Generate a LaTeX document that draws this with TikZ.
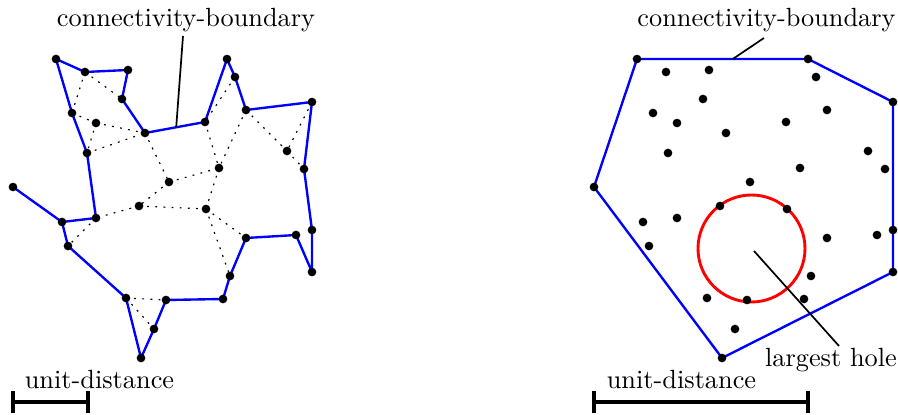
\documentclass[tikz,border=0pt]{standalone}
\usetikzlibrary{calc}
\begin{document}
\begin{tikzpicture}[x=0.38pt,y=-0.38pt,
  dot/.style={circle,fill=black,inner sep=0pt,minimum size=3.3pt},
  hull/.style={blue,line width=0.9pt,line join=round},
  deltri/.style={black,line width=0.45pt,dash pattern=on 0.7pt off 2.4pt},
  pointer/.style={black,line width=0.65pt},
  scalebar/.style={black,line width=1.2pt},
  lbl/.style={anchor=base,inner sep=0pt,font=\normalsize}]
\useasboundingbox (0,0) rectangle (898,415);
% point set, left copy (L) and right copy (R, shifted by 581px)
\foreach \i/\x/\y in {1/56/59,2/85/72,3/128/70,4/122/99,5/145/133,6/205/122,
  7/227/59,8/235/77,9/246/110,10/312/102,11/287/151,12/304/169,13/312/230,
  14/312/272,15/296/235,16/246/238,17/230/276,18/223/299,19/166/300,
  20/154/329,21/141/358,22/126/298,23/68/246,24/62/222,25/13/187,26/96/218,
  27/87/153,28/72/113,29/96/123,30/169/182,31/219/168,32/139/206,33/206/209}{
  \coordinate (L\i) at (\x,\y);
  \coordinate (R\i) at ({\x+581},\y);
}
% left: dotted triangulation edges
\foreach \a/\b in {2/28,2/4,28/29,29/5,29/27,27/5,5/30,8/6,6/31,9/31,9/11,
  10/11,11/12,30/31,30/32,31/33,32/33,32/26,26/23,33/16,33/17,22/19,22/20}{
  \draw[deltri] (L\a) -- (L\b);
}
% left: connectivity boundary
\draw[hull] (L25) -- (L24) -- (L26) -- (L27) -- (L28) -- (L1) -- (L2) -- (L3)
  -- (L4) -- (L5) -- (L6) -- (L7) -- (L8) -- (L9) -- (L10) -- (L12) -- (L13)
  -- (L14) -- (L15) -- (L16) -- (L17) -- (L18) -- (L19) -- (L20) -- (L21)
  -- (L22) -- (L23) -- (L24);
% right: convex hull
\draw[hull] (R1) -- (R7) -- (R10) -- (R14) -- (R21) -- (R25) -- cycle;
% right: largest hole
\coordinate (HC) at (751.5,248.5);
\draw[red,line width=1.1pt] (HC) circle (53.5);
% dots
\foreach \i in {1,...,33}{
  \node[dot] (dL\i) at (L\i) {};
  \node[dot] (dR\i) at (R\i) {};
}
% labels and pointers
\node[lbl] (cbL) at (186,27) {connectivity-boundary};
\coordinate (pL1) at ($(L5)!0.52!(L6)$);
\coordinate (pL2) at (183,36);
\draw[pointer] (pL1) -- (pL2);
\node[lbl] (cbR) at (766.5,27) {connectivity-boundary};
\coordinate (pR1) at ($(R1)!0.56!(R7)$);
\coordinate (pR2) at (764,38);
\draw[pointer] (pR1) -- (pR2);
\node[lbl] (lh) at (831,367) {largest hole};
\coordinate (pH1) at (754,251);
\coordinate (pH2) at (839,346);
\draw[pointer] (pH1) -- (pH2);
% unit-distance bars
\node[lbl] (udL) at (99.5,389) {unit-distance};
\coordinate (sL1) at (13,402);
\coordinate (sL2) at (88,402);
\draw[scalebar] (sL1) -- (sL2);
\draw[scalebar] ($(sL1)+(0,-11)$) -- ($(sL1)+(0,11)$);
\draw[scalebar] ($(sL2)+(0,-11)$) -- ($(sL2)+(0,11)$);
\node[lbl] (udR) at (681.5,389) {unit-distance};
\coordinate (sR1) at (594,402);
\coordinate (sR2) at (808,402);
\draw[scalebar] (sR1) -- (sR2);
\draw[scalebar] ($(sR1)+(0,-11)$) -- ($(sR1)+(0,11)$);
\draw[scalebar] ($(sR2)+(0,-11)$) -- ($(sR2)+(0,11)$);
\end{tikzpicture}
\end{document}
